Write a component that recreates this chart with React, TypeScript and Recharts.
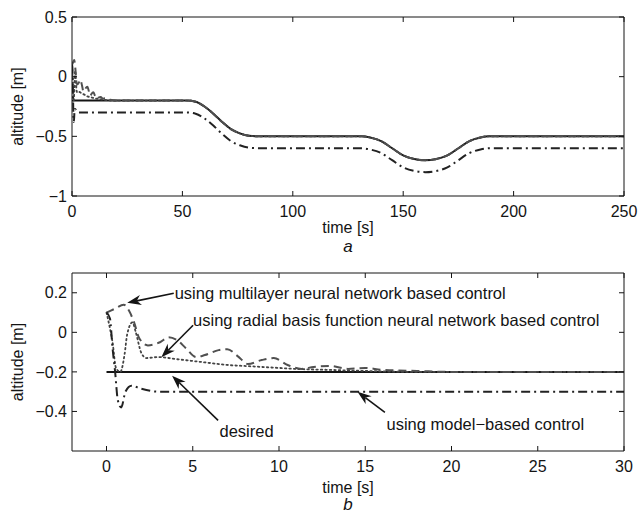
import React from 'react';
import { LineChart, Line, XAxis, YAxis, ReferenceLine, ReferenceDot } from 'recharts';

// altitude [m] vs time [s]
const desired: [number, number][] = [
  [0, -0.2], [52, -0.2], [56, -0.21], [60, -0.25], [64, -0.31], [68, -0.38], [72, -0.44],
  [76, -0.475], [80, -0.495], [85, -0.5], [131, -0.5], [135, -0.51], [140, -0.54],
  [145, -0.6], [150, -0.66], [155, -0.69], [160, -0.7], [165, -0.69], [170, -0.66],
  [175, -0.6], [180, -0.54], [185, -0.51], [189, -0.5], [250, -0.5],
];

const multilayerStart: [number, number][] = [
  [0, 0.1], [0.5, 0.12], [1, 0.14], [1.3, 0.11], [1.6, 0.05], [1.9, -0.03], [2.4, -0.066],
  [3.1, -0.05], [3.6, -0.025], [4.1, -0.04], [4.6, -0.08], [5.2, -0.125], [5.7, -0.115],
  [6.5, -0.09], [7, -0.085], [7.6, -0.12], [8.2, -0.16], [9, -0.14], [9.7, -0.13],
  [10.5, -0.165], [11.3, -0.185], [12, -0.175], [13, -0.17], [14, -0.185], [15, -0.18],
  [16, -0.19], [18, -0.195], [20, -0.2],
];

const rbfStart: [number, number][] = [
  [0, 0.1], [0.2, 0.02], [0.35, -0.05], [0.55, -0.18], [0.8, -0.2], [1.05, -0.11],
  [1.2, -0.01], [1.5, 0.05], [1.7, 0], [2, -0.1], [2.3, -0.13], [3, -0.125], [4, -0.135],
  [5, -0.145], [6, -0.155], [7, -0.165], [8, -0.17], [9, -0.175], [10, -0.18],
  [11, -0.185], [13, -0.19], [15, -0.195], [18, -0.2],
];

const modelBased: [number, number][] = [
  [0, 0.1], [0.2, 0.07], [0.35, -0.08], [0.5, -0.2], [0.65, -0.34], [0.85, -0.38],
  [1.1, -0.3], [1.45, -0.27], [2, -0.285], [3, -0.3], [52, -0.3], [56, -0.31], [60, -0.35],
  [64, -0.41], [68, -0.48], [72, -0.54], [76, -0.575], [80, -0.595], [85, -0.6], [131, -0.6],
  [135, -0.61], [140, -0.64], [145, -0.7], [150, -0.76], [155, -0.79], [160, -0.8],
  [165, -0.79], [170, -0.76], [175, -0.7], [180, -0.64], [185, -0.61], [189, -0.6], [250, -0.6],
];

const topXTicks = [0, 50, 100, 150, 200, 250];
const topYTicks = [-1, -0.5, 0, 0.5];
const botXTicks = [0, 5, 10, 15, 20, 25, 30];
const botYTicks = [-0.4, -0.2, 0, 0.2];

// annotations of panel b: text, text anchor point, arrow tail, arrow head
const noteTexts = [
  'using multilayer neural network based control',
  'using radial basis function neural network based control',
  'desired',
  'using model\u2212based control',
];
const noteAnchors: ('start' | 'middle')[] = ['start', 'start', 'middle', 'start'];
const notePos: [number, number][] = [[3.95, 0.2], [5.02, 0.061], [8.12, -0.499], [16.23, -0.465]];
const arrowTails: [number, number][] = [[3.9, 0.198], [5.02, 0.036], [6.47, -0.445], [16.14, -0.405]];
const arrowHeads: [number, number][] = [[1.2, 0.149], [3.18, -0.126], [3.8, -0.219], [14.55, -0.3]];

const FONT = '"Liberation Sans", Arial, Helvetica, sans-serif';
const INK = '#141414';

const toPts = (a: [number, number][]) => a.map(([t, y]) => ({ t, y }));
const track = desired.filter(([t]) => t >= 52);

const seriesDesired = toPts(desired);
const seriesMultilayer = toPts([...multilayerStart, ...track]);
const seriesRbf = toPts([...rbfStart, ...track]);
const seriesModel = toPts(modelBased);

const fmt = (v: number) => (v < 0 ? '\u2212' + String(-v) : String(v));

function Arrow(props: any) {
  const { x1, y1, x2, y2 } = props;
  const dx = x2 - x1;
  const dy = y2 - y1;
  const len = Math.hypot(dx, dy) || 1;
  const ux = dx / len;
  const uy = dy / len;
  const L = 14;
  const W = 5;
  const bx = x2 - ux * L;
  const by = y2 - uy * L;
  const mx = x2 - ux * L * 0.7;
  const my = y2 - uy * L * 0.7;
  return (
    <g>
      <line x1={x1} y1={y1} x2={mx} y2={my} stroke={INK} strokeWidth={1.6} />
      <polygon
        points={`${x2},${y2} ${bx - uy * W},${by + ux * W} ${mx},${my} ${bx + uy * W},${by - ux * W}`}
        fill={INK}
      />
    </g>
  );
}

function lines() {
  return [
    // invisible copy bound to the top/right axes so they draw the box edges
    <Line key="frame" xAxisId="top" yAxisId="right" data={seriesDesired} dataKey="y" stroke="none"
      dot={false} activeDot={false} isAnimationActive={false} />,
    <Line key="d" data={seriesDesired} dataKey="y" type="monotone" stroke={INK} strokeWidth={2}
      dot={false} activeDot={false} isAnimationActive={false} />,
    <Line key="r" data={seriesRbf} dataKey="y" type="monotone" stroke="#444" strokeWidth={1.8}
      strokeDasharray="1.5 3" strokeLinecap="round" dot={false} activeDot={false} isAnimationActive={false} />,
    <Line key="m" data={seriesMultilayer} dataKey="y" type="monotone" stroke="#505050" strokeWidth={2}
      strokeDasharray="8 5" dot={false} activeDot={false} isAnimationActive={false} />,
    <Line key="b" data={seriesModel} dataKey="y" type="monotone" stroke="#222" strokeWidth={2}
      strokeDasharray="9 4 2 4" dot={false} activeDot={false} isAnimationActive={false} />,
  ];
}

function axes(
  xDomain: [number, number], xTicks: number[], yDomain: [number, number], yTicks: number[],
  caption: string, capGap: number, letterGap: number,
) {
  return [
    <XAxis key="xb" dataKey="t" type="number" domain={xDomain} ticks={xTicks} allowDataOverflow
      height={30} tickSize={-5} tickMargin={15} tickFormatter={fmt}
      axisLine={{ stroke: INK }} tickLine={{ stroke: INK }} tick={{ fill: INK, fontSize: 16 }}
      label={(p: any) => {
        const vb = p.viewBox;
        const cx = vb.x + vb.width / 2;
        return (
          <g>
            <text x={cx} y={vb.y + capGap} textAnchor="middle" dominantBaseline="central" fontSize={16} fill={INK}>time [s]</text>
            <text x={cx} y={vb.y + letterGap} textAnchor="middle" dominantBaseline="central" fontSize={17} fontStyle="italic" fill={INK}>{caption}</text>
          </g>
        );
      }}
    />,
    <XAxis key="xt" xAxisId="top" orientation="top" dataKey="t" type="number" domain={xDomain} ticks={xTicks}
      allowDataOverflow height={1} tickSize={-5} tickFormatter={() => ''}
      axisLine={{ stroke: INK }} tickLine={{ stroke: INK }} />,
    <YAxis key="yl" type="number" domain={yDomain} ticks={yTicks} allowDataOverflow width={50}
      tickSize={-5} tickMargin={10} tickFormatter={fmt}
      axisLine={{ stroke: INK }} tickLine={{ stroke: INK }} tick={{ fill: INK, fontSize: 16 }}
      label={(p: any) => {
        const vb = p.viewBox;
        const cx = vb.x - 5;
        const cy = vb.y + vb.height / 2;
        return (
          <text x={cx} y={cy} transform={`rotate(-90 ${cx} ${cy})`} textAnchor="middle"
            dominantBaseline="central" fontSize={16} fill={INK}>altitude [m]</text>
        );
      }}
    />,
    <YAxis key="yr" yAxisId="right" orientation="right" type="number" domain={yDomain} ticks={yTicks}
      allowDataOverflow width={1} tickSize={-5} tickFormatter={() => ''}
      axisLine={{ stroke: INK }} tickLine={{ stroke: INK }} />,
  ];
}

export default function App() {
  return (
    <div style={{ position: 'absolute', left: 0, top: 0, width: 638, height: 513, background: '#fff', fontFamily: FONT }}>
      <div style={{ position: 'absolute', left: 0, top: 0 }}>
        <LineChart width={638} height={258} margin={{ top: 16, right: 13, bottom: 32, left: 22 }}>
          {axes([0, 250], topXTicks, [-1, 0.5], topYTicks, 'a', 31, 50)}
          {lines()}
        </LineChart>
      </div>
      <div style={{ position: 'absolute', left: 0, top: 258 }}>
        <LineChart width={638} height={255} margin={{ top: 14, right: 13, bottom: 32, left: 22 }}>
          {axes([-2, 30], botXTicks, [-0.6, 0.3], botYTicks, 'b', 36, 53)}
          {lines()}
          {arrowTails.map((tail, i) => (
            <ReferenceLine key={'a' + i} ifOverflow="visible"
              segment={[{ x: tail[0], y: tail[1] }, { x: arrowHeads[i][0], y: arrowHeads[i][1] }]}
              shape={Arrow} />
          ))}
          {notePos.map((p, i) => (
            <ReferenceDot key={'n' + i} x={p[0]} y={p[1]} r={0} fill="none" stroke="none" ifOverflow="visible"
              label={(lp: any) => {
                const vb = lp.viewBox;
                return (
                  <text x={vb.x + vb.width / 2} y={vb.y + vb.height / 2} textAnchor={noteAnchors[i]}
                    dominantBaseline="central" fontSize={16.5} fill={INK}>{noteTexts[i]}</text>
                );
              }}
            />
          ))}
        </LineChart>
      </div>
    </div>
  );
}
